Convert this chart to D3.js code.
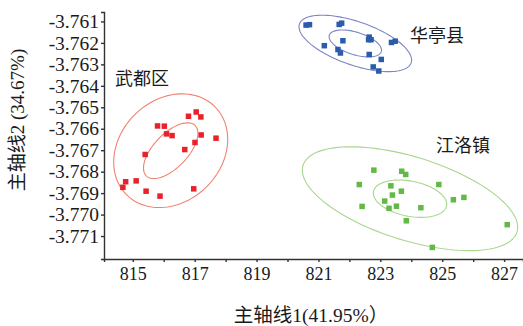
<!DOCTYPE html>
<html>
<head>
<meta charset="utf-8">
<script src="https://cdn.jsdelivr.net/npm/d3@7"></script>
<style>
  html, body { margin: 0; padding: 0; background: #ffffff; }
  svg { display: block; }
  .tick text { font-family: "Liberation Serif", "Noto Sans CJK SC", serif; font-size: 18px; fill: #1a1a1a; }
  .yaxis .tick text { font-size: 19.5px; }
  .axis path, .axis line { stroke: #333; stroke-width: 1.4; }
</style>
</head>
<body>
<svg id="chart" width="523" height="326"></svg>
<script>
// Principal-axis scores for samples from three origins
const groups = ["武都区", "华亭县", "江洛镇"];

const wuduX = [816.80, 817.05, 817.20, 815.80, 816.02, 816.09, 816.27, 817.21, 817.69,
               817.01, 816.68, 815.40, 814.77, 815.11, 814.68, 815.43, 815.88, 816.97];
const wuduY = [-3.76542, -3.76522, -3.76545, -3.76587, -3.76588, -3.76624, -3.76632, -3.76629, -3.76644,
               -3.76664, -3.76697, -3.76720, -3.76847, -3.76843, -3.76873, -3.76891, -3.76914, -3.76880];

const huatingX = [820.60, 820.71, 821.67, 821.75, 821.79, 821.19, 821.63, 821.71, 822.64,
                  822.70, 822.62, 823.36, 823.48, 822.64, 823.03, 822.77, 822.95];
const huatingY = [-3.76117, -3.76115, -3.76114, -3.76108, -3.76190, -3.76213, -3.76231, -3.76247, -3.76173,
                  -3.76185, -3.76185, -3.76198, -3.76192, -3.76254, -3.76277, -3.76312, -3.76331];

const jiangluoX = [822.79, 823.69, 823.82, 822.32, 823.34, 824.89, 823.68, 823.39, 825.36,
                   825.70, 823.14, 822.41, 823.28, 823.52, 824.31, 823.84, 827.10, 824.68];
const jiangluoY = [-3.76793, -3.76798, -3.76813, -3.76860, -3.76866, -3.76860, -3.76891, -3.76909, -3.76931,
                   -3.76920, -3.76937, -3.76962, -3.76971, -3.76961, -3.76968, -3.77029, -3.77047, -3.77153];

// Confidence ellipses around each group mean: half-extent in x, half-extent in y, correlation
const outerA = [1.842, 1.82, 3.48];
const outerB = [0.00265, 0.001316, 0.00242];
const outerRho = [0.20, -0.59, -0.55];
const innerA = [0.879, 0.847, 1.186];
const innerB = [0.00130, 0.000628, 0.00087];
const innerRho = [0.62, -0.50, -0.30];

const xTicks = [815, 816, 817, 818, 819, 820, 821, 822, 823, 824, 825, 826, 827];
const yTicks = [-3.761, -3.762, -3.763, -3.764, -3.765, -3.766, -3.767, -3.768, -3.769, -3.770, -3.771];

const xTitle = "主轴线1(41.95%）";
const yTitle = "主轴线2 (34.67%)";

const pointColors = ["#e8222b", "#2b5bab", "#62b946"];
const ringColors = ["#f0826f", "#7c86c6", "#a9d68f"];

const series = [
  { name: groups[0], xs: wuduX, ys: wuduY },
  { name: groups[1], xs: huatingX, ys: huatingY },
  { name: groups[2], xs: jiangluoX, ys: jiangluoY }
];

const svg = d3.select("#chart");
const plotLeft = 104, plotRight = 523, plotTop = 12, plotBottom = 259;

const x = d3.scaleLinear().domain([814.07, 827.61]).range([plotLeft, plotRight]);
const y = d3.scaleLinear().domain([-3.77207, -3.76056]).range([plotBottom, plotTop]);

// axes
svg.append("g")
  .attr("class", "axis xaxis")
  .attr("transform", `translate(0,${plotBottom})`)
  .call(d3.axisBottom(x).tickValues(xTicks).tickSizeOuter(0).tickSize(3).tickPadding(5)
        .tickFormat(d => (d % 2 !== 0 ? String(d) : "")));

svg.append("g")
  .attr("class", "axis yaxis")
  .attr("transform", `translate(${plotLeft},0)`)
  .call(d3.axisLeft(y).tickValues(yTicks).tickSizeOuter(0).tickSize(3).tickPadding(2)
        .tickFormat(d => d.toFixed(3)));

// ellipse outline generator
function ellipsePoints(cx, cy, a, b, rho) {
  const s = Math.sqrt(1 - rho * rho);
  return d3.range(0, 120).map(i => {
    const t = (i / 120) * 2 * Math.PI;
    return [cx + a * Math.cos(t), cy + b * (rho * Math.cos(t) + s * Math.sin(t))];
  });
}
const line = d3.line().x(d => x(d[0])).y(d => y(d[1])).curve(d3.curveLinearClosed);

series.forEach((s, i) => {
  const cx = d3.mean(s.xs), cy = d3.mean(s.ys);
  const g = svg.append("g");
  g.append("path")
    .attr("d", line(ellipsePoints(cx, cy, outerA[i], outerB[i], outerRho[i])))
    .attr("fill", "none").attr("stroke", ringColors[i]).attr("stroke-width", 1.1);
  g.append("path")
    .attr("d", line(ellipsePoints(cx, cy, innerA[i], innerB[i], innerRho[i])))
    .attr("fill", "none").attr("stroke", ringColors[i]).attr("stroke-width", 1.1);
  const size = 5.5;
  g.selectAll("rect")
    .data(s.xs.map((v, k) => [v, s.ys[k]]))
    .join("rect")
    .attr("x", d => x(d[0]) - size / 2)
    .attr("y", d => y(d[1]) - size / 2)
    .attr("width", size).attr("height", size)
    .attr("fill", pointColors[i]);
});

// group labels
const labelFont = '"Noto Sans CJK SC", sans-serif';
const labelPos = [[115, 79], [410, 36], [436, 146]];
groups.forEach((name, i) => {
  svg.append("text")
    .attr("x", labelPos[i][0]).attr("y", labelPos[i][1])
    .attr("dy", "0.36em")
    .attr("font-family", labelFont).attr("font-size", 18)
    .attr("fill", "#1a1a1a")
    .text(name);
});

// axis titles
svg.append("text")
  .attr("x", 311).attr("y", 315).attr("dy", "0.36em")
  .attr("text-anchor", "middle")
  .attr("font-family", '"Liberation Serif", "Noto Sans CJK SC", serif')
  .attr("font-size", 19.5).attr("fill", "#1a1a1a")
  .text(xTitle);

svg.append("text")
  .attr("transform", "translate(17,120) rotate(-90)")
  .attr("dy", "0.36em")
  .attr("text-anchor", "middle")
  .attr("font-family", '"Liberation Serif", "Noto Sans CJK SC", serif')
  .attr("font-size", 19).attr("fill", "#1a1a1a")
  .text(yTitle);
</script>
</body>
</html>
